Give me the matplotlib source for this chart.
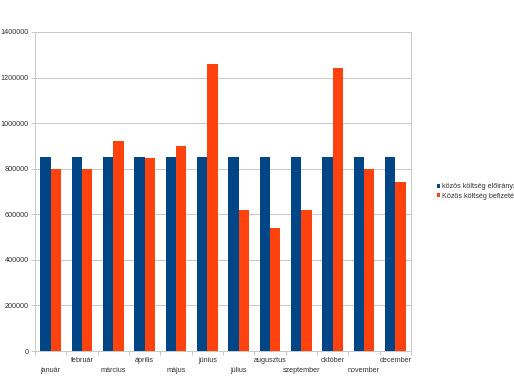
import matplotlib
matplotlib.use("Agg")
import matplotlib.pyplot as plt
import numpy as np

months = ["január", "február", "március", "április", "május", "június",
          "július", "augusztus", "szeptember", "október", "november", "december"]
planned = [850000] * 12
paid = [800000, 800000, 920000, 845000, 900000, 1260000,
        620000, 540000, 620000, 1240000, 800000, 740000]
series_names = ["közös költség előirányzat", "Közös költség befizetés"]
yticks = [0, 200000, 400000, 600000, 800000, 1000000, 1200000, 1400000]

plt.rcParams['font.family'] = ['Liberation Sans', 'DejaVu Sans']
fig = plt.figure(figsize=(5.14, 3.86), dpi=100)
ax = fig.add_axes([35/514, 1-351/386, (411-35)/514, (351-32)/386])

x = np.arange(len(months))
w = 0.33
grey = "#c8c8c8"
ax.bar(x - w/2, planned, w, color="#004586", label=series_names[0], zorder=3)
ax.bar(x + w/2, paid, w, color="#ff420e", label=series_names[1], zorder=3)

ax.set_xlim(-0.5, len(months) - 0.5)
ax.set_ylim(0, 1400000)
ax.set_yticks(yticks)
ax.set_yticklabels([str(v) for v in yticks], fontsize=5.2, color="#333333")
ax.yaxis.grid(True, color=grey, linewidth=0.7, zorder=0)
ax.tick_params(axis='y', length=3, width=0.7, color=grey, pad=1.5)

ax.set_xticks(np.arange(-0.5, len(months) + 0.5, 1.0))
ax.set_xticklabels([])
ax.tick_params(axis='x', length=3, width=0.7, color=grey)

for s in ax.spines.values():
    s.set_color(grey)
    s.set_linewidth(0.7)

for i, m in enumerate(months):
    off = -19 if i % 2 == 0 else -10
    ax.annotate(m, xy=(i, 0), xycoords=('data', 'axes fraction'),
                xytext=(0, off * 0.72), textcoords='offset points',
                ha='center', va='center', fontsize=5.2, color="#333333",
                annotation_clip=False)

fig.legend(loc='center left', bbox_to_anchor=(433/514, 1-191.5/386),
           frameon=False, fontsize=5.2, handlelength=0.5, handleheight=0.5,
           handletextpad=0.3, labelspacing=0.3, borderpad=0, labelcolor="#333333")

fig.savefig("out.png", dpi=100)
